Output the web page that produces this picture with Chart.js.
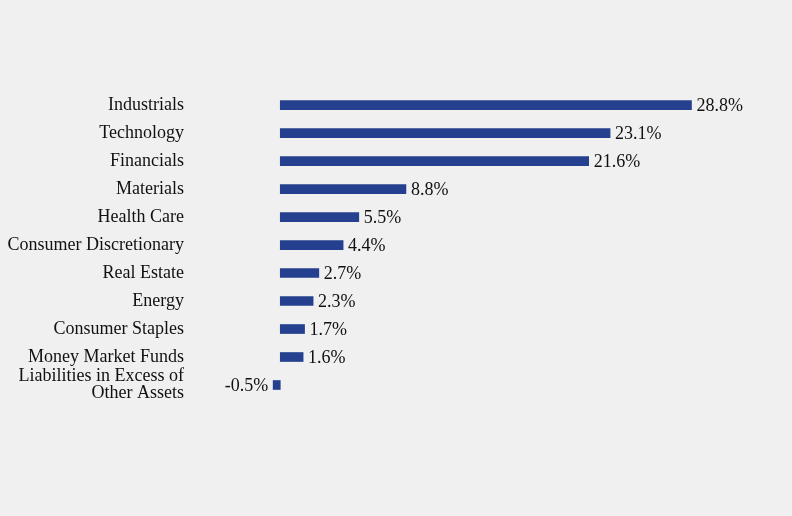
<!DOCTYPE html>
<html>
<head>
<meta charset="utf-8">
<script src="https://cdn.jsdelivr.net/npm/chart.js@4"></script>
<style>
  html, body { margin: 0; padding: 0; background: #f0f0f0; }
  #wrap { width: 792px; height: 516px; }
</style>
</head>
<body>
<div id="wrap"><canvas id="sectorChart"></canvas></div>
<script>
const sectors = ['Industrials', 'Technology', 'Financials', 'Materials', 'Health Care',
    'Consumer Discretionary', 'Real Estate', 'Energy', 'Consumer Staples',
    'Money Market Funds', ['Liabilities in Excess of', 'Other Assets']];
const weights = [28.8, 23.1, 21.6, 8.8, 5.5, 4.4, 2.7, 2.3, 1.7, 1.6, -0.5];

// draws the "28.8%" labels at the bar ends
const valueLabels = {
    id: 'valueLabels',
    afterDatasetsDraw(chart) {
        const ctx = chart.ctx;
        const meta = chart.getDatasetMeta(0);
        ctx.save();
        ctx.font = '18px "Liberation Serif", "Times New Roman", serif';
        ctx.fillStyle = '#111';
        ctx.textBaseline = 'middle';
        meta.data.forEach((bar, i) => {
            const v = weights[i];
            const txt = v.toFixed(1) + '%';
            if (v < 0) {
                ctx.textAlign = 'right';
                ctx.fillText(txt, bar.x - 5, bar.y + 1);
            } else {
                ctx.textAlign = 'left';
                ctx.fillText(txt, bar.x + 5, bar.y + 1);
            }
        });
        ctx.restore();
    }
};

new Chart(document.getElementById('sectorChart'), {
    type: 'bar',
    data: {
        labels: sectors,
        datasets: [{
            data: weights,
            backgroundColor: '#24408e',
            barThickness: 9
        }]
    },
    options: {
        indexAxis: 'y',
        responsive: true,
        maintainAspectRatio: false,
        animation: false,
        layout: { padding: { top: 1, bottom: 117, left: 0, right: 12 } },
        scales: {
            x: { display: false, min: -1, max: 35 },
            y: {
                grid: { display: false },
                border: { display: false },
                afterFit: s => { s.width = 266; },
                ticks: {
                    autoSkip: false,
                    padding: 74,
                    color: '#111',
                    font: { family: '"Liberation Serif", "Times New Roman", serif', size: 18, lineHeight: 0.95 }
                }
            }
        },
        plugins: { legend: { display: false }, tooltip: { enabled: false } }
    },
    plugins: [valueLabels]
});
</script>
</body>
</html>
